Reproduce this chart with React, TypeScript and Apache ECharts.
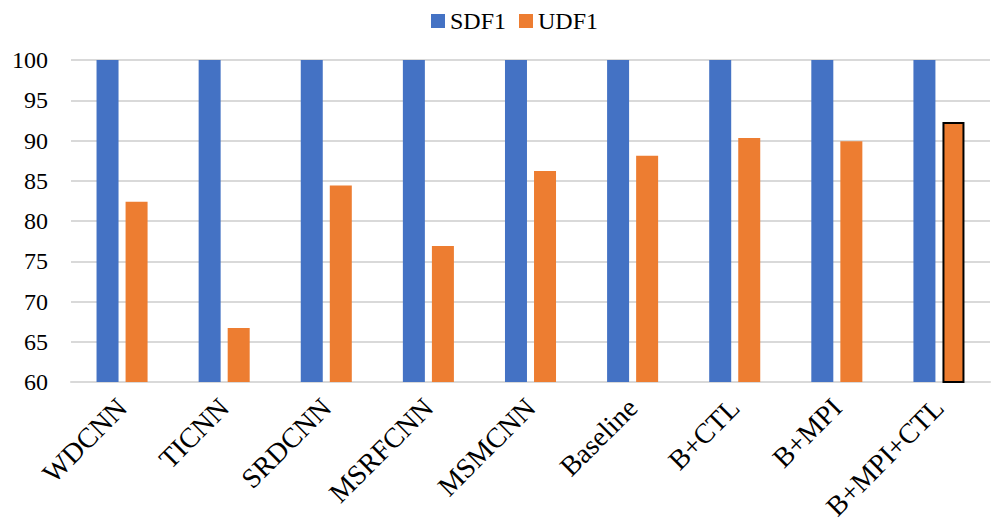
import React, { useEffect, useRef } from "react";
import * as echarts from "echarts";

const categories = ["WDCNN", "TICNN", "SRDCNN", "MSRFCNN", "MSMCNN", "Baseline", "B+CTL", "B+MPI", "B+MPI+CTL"];
const sdf1 = [100, 100, 100, 100, 100, 100, 100, 100, 100];
const udf1 = [82.4, 66.7, 84.4, 76.9, 86.2, 88.1, 90.3, 89.9, 92.3];
const highlightIndex = 8;

export default function App() {
  const ref = useRef<HTMLDivElement>(null);
  useEffect(() => {
    if (!ref.current) return;
    const chart = echarts.init(ref.current, undefined, { renderer: "svg" });
    const font = "Liberation Serif";
    chart.setOption({
      animation: false,
      textStyle: { fontFamily: font },
      legend: {
        top: 4,
        left: 426,
        itemWidth: 14,
        itemHeight: 14,
        itemGap: 13,
        icon: "rect",
        textStyle: { fontFamily: font, fontSize: 24, color: "#000" },
        data: ["SDF1", "UDF1"],
      },
      grid: { left: 71, right: 12, top: 60, bottom: 140, containLabel: false, outerBoundsMode: "none" },
      xAxis: {
        type: "category",
        data: categories,
        axisLine: { lineStyle: { color: "#d9d9d9", width: 2 } },
        axisTick: { show: false },
        axisLabel: {
          rotate: 45,
          interval: 0,
          margin: 21,
          align: "right",
          verticalAlign: "middle",
          fontFamily: font,
          fontSize: 28,
          color: "#000",
        },
      },
      yAxis: {
        type: "value",
        min: 60,
        max: 100,
        interval: 5,
        axisLine: { show: false },
        axisTick: { show: false },
        splitLine: { lineStyle: { color: "#d9d9d9", width: 2 } },
        axisLabel: { margin: 23, fontFamily: font, fontSize: 24, color: "#000" },
      },
      series: [
        {
          name: "SDF1",
          type: "bar",
          data: sdf1,
          barWidth: 22,
          barGap: "32%",
          itemStyle: { color: "#4472C4" },
        },
        {
          name: "UDF1",
          type: "bar",
          data: udf1.map((v, i) =>
            i === highlightIndex
              ? { value: v, itemStyle: { color: "#ED7D31", borderColor: "#000", borderWidth: 2 } }
              : v
          ),
          barWidth: 22,
          itemStyle: { color: "#ED7D31" },
        },
      ],
    });
    return () => chart.dispose();
  }, []);
  return (
    <div
      ref={ref}
      style={{ position: "fixed", left: 0, top: 0, width: 1002, height: 522, background: "#fff" }}
    />
  );
}
